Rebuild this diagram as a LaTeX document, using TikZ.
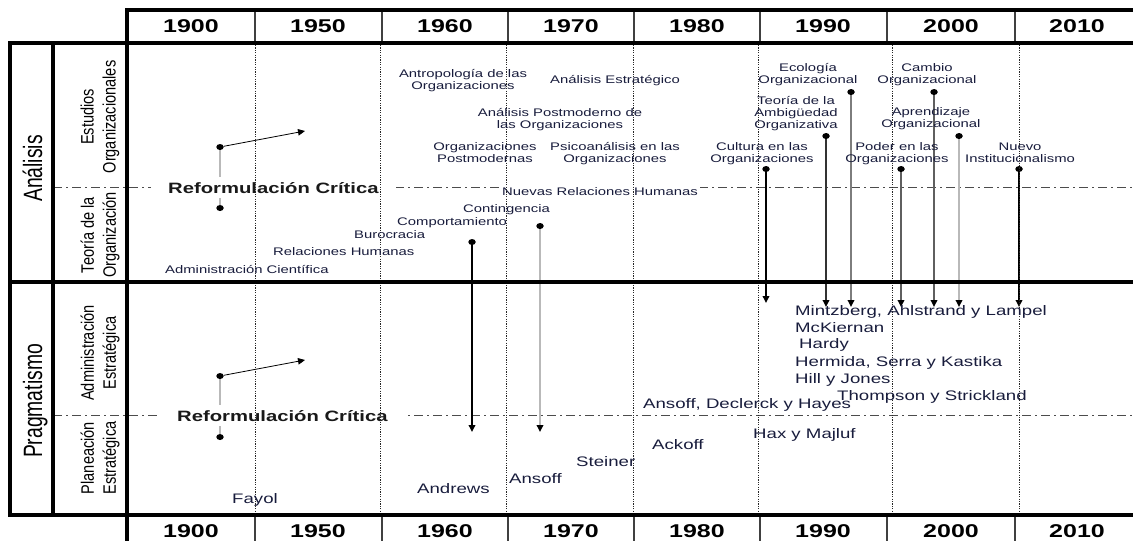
\documentclass[tikz,border=0pt]{standalone}
\usepackage{fontspec}
\setmainfont{Liberation Sans}
\newfontfamily\wfont[FakeStretch=1.35]{Liberation Sans}
\newfontfamily\sidefont[FakeStretch=0.73]{Liberation Sans}
\newfontfamily\subfont[FakeStretch=0.81]{Liberation Sans}
\usetikzlibrary{arrows.meta,shapes.geometric}

\definecolor{ink}{RGB}{24,28,60}
\definecolor{grayA}{RGB}{185,185,185}
\definecolor{grayB}{RGB}{125,125,125}
\definecolor{grayC}{RGB}{95,95,95}
\definecolor{grayD}{RGB}{50,50,50}

\tikzset{
  frame/.style={line width=4.5pt},
  divider/.style={line width=1.2pt, black!75},
  dotv/.style={line width=0.9pt, black!85, dash pattern=on 1.2pt off 1.2pt},
  dashdot/.style={line width=0.9pt, black!70, dash pattern=on 9pt off 4pt on 2pt off 4pt},
  dot/.style={ellipse, fill=black, inner sep=0pt, minimum width=7.5pt, minimum height=6pt},
  conn/.style={line width=2pt},
  tip/.style={-{Triangle[width=6.5pt,length=7pt,black]}},
  year/.style={font=\wfont\bfseries\fontsize{18.5}{20}\selectfont, text=black, anchor=base, inner sep=0pt},
  % multi-line labels: the base anchor sits on the last line
  lbl/.style={font=\wfont\fontsize{11}{11.8}\selectfont, text=ink, align=center, anchor=base, inner sep=0pt},
  sm/.style={font=\wfont\fontsize{11}{11.8}\selectfont, text=ink, anchor=base west, inner sep=0pt},
  nm/.style={font=\wfont\fontsize{13.8}{14}\selectfont, text=ink, anchor=base west, inner sep=0pt},
  refo/.style={font=\wfont\bfseries\fontsize{15}{16}\selectfont, text=black!90, fill=white, anchor=base west, inner xsep=17pt, inner ysep=5pt},
  side/.style={font=\sidefont\fontsize{26.5}{28}\selectfont, rotate=90, anchor=base, inner sep=0pt},
  sub/.style={font=\subfont\fontsize{18}{22}\selectfont, rotate=90, align=center, inner sep=0pt},
}

\begin{document}
\begin{tikzpicture}[x=1pt,y=-1pt]
\useasboundingbox (0,0) rectangle (1133,541);

% section separators inside each band
\draw[dashdot] (53,187) -- (1140,187);
\draw[dashdot] (53,415) -- (1140,415);

% critical reformulation markers
\node[dot] (ra) at (220,147) {};
\node[dot] (rb) at (220,208) {};
\node[dot] (pa) at (220,376) {};
\node[dot] (pb) at (220,437) {};
\coordinate (rae) at (305,131);
\coordinate (pae) at (305,360);
\draw[conn, grayA] (ra) -- (rb);
\draw[conn, grayA] (pa) -- (pb);
\draw[line width=0.8pt, tip] (ra) -- (rae);
\draw[line width=0.8pt, tip] (pa) -- (pae);

% links from the theory side to the strategic side
\node[dot] (v1) at (472,242) {};
\node[dot] (v2) at (540,226) {};
\node[dot] (v3) at (766,169) {};
\node[dot] (v4) at (826,136) {};
\node[dot] (v5) at (851,92) {};
\node[dot] (v6) at (901,169) {};
\node[dot] (v7) at (934,92) {};
\node[dot] (v8) at (959,136) {};
\node[dot] (v9) at (1019,169) {};
\coordinate (e1) at (472,432);
\coordinate (e2) at (540,432);
\coordinate (e3) at (766,303);
\coordinate (e4) at (826,307);
\coordinate (e5) at (851,307);
\coordinate (e6) at (901,307);
\coordinate (e7) at (934,307);
\coordinate (e8) at (959,307);
\coordinate (e9) at (1019,307);
\draw[conn, tip, black] (v1) -- (e1);
\draw[conn, tip, grayA] (v2) -- (e2);
\draw[conn, tip, black] (v3) -- (e3);
\draw[conn, tip, grayD] (v4) -- (e4);
\draw[conn, tip, grayB] (v5) -- (e5);
\draw[conn, tip, grayC] (v6) -- (e6);
\draw[conn, tip, grayC] (v7) -- (e7);
\draw[conn, tip, grayA] (v8) -- (e8);
\draw[conn, tip, black] (v9) -- (e9);

\node[refo] (rfa) at (151,193) {Reformulación Crítica};
\node[refo] (rfb) at (160,421) {Reformulación Crítica};
\node[sm, fill=white, inner xsep=2pt] (nrh) at (500,195) {Nuevas Relaciones Humanas};

% decade guides
\foreach \gx in {255,380,506,633,758,892,1019}
  \draw[dotv] (\gx,45) -- (\gx,513);

% frame
\draw[frame] (127,10) rectangle (1145,43);
\draw[frame] (10,43) rectangle (1145,515);
\draw[frame] (53,43) -- (53,515);
\draw[frame] (127,43) -- (127,515);
\draw[frame] (10,282) -- (1145,282);
\draw[frame] (127,515) -- (127,545);
\foreach \gx in {255,382,508,634,760,887,1015} {
  \draw[divider] (\gx,12) -- (\gx,41);
  \draw[divider] (\gx,517) -- (\gx,545);
}

% decades
\foreach \yr/\cx [count=\i] in {1900/191,1950/318,1960/445,1970/571,1980/697,1990/823,2000/951,2010/1077} {
  \node[year] (top\i) at (\cx,32.5) {\yr};
  \node[year] (bot\i) at (\cx,537.5) {\yr};
}

% row headings
\node[side] (an) at (42,168.5) {Análisis};
\node[side] (pr) at (42,401) {Pragmatismo};
\node[sub] (eo) at (100,117) {Estudios\\Organizacionales};
\node[sub] (to) at (100,235) {Teoría de la\\Organización};
\node[sub] (ae) at (100,353) {Administración\\Estratégica};
\node[sub] (pe) at (100,458) {Planeación\\Estratégica};

% organizational studies
\node[lbl] (l1) at (463,89) {Antropología de las\\Organizaciones};
\node[lbl] (l2) at (615,83) {Análisis Estratégico};
\node[lbl] (l3) at (560,128.5) {Análisis Postmoderno de\\las Organizaciones};
\node[lbl] (l4) at (485,162) {Organizaciones\\Postmodernas};
\node[lbl] (l5) at (615,162) {Psicoanálisis en las\\Organizaciones};
\node[lbl] (l6) at (762,162) {Cultura en las\\Organizaciones};
\node[lbl] (l7) at (808,83) {Ecología\\Organizacional};
\node[lbl] (l8) at (796,128.5) {Teoría de la\\Ambigüedad\\Organizativa};
\node[lbl] (l9) at (927,83) {Cambio\\Organizacional};
\node[lbl] (l10) at (931,127) {Aprendizaje\\Organizacional};
\node[lbl] (l11) at (897,162) {Poder en las\\Organizaciones};
\node[lbl] (l12) at (1020,162) {Nuevo\\Institucionalismo};

% organization theory
\node[sm] (t1) at (463,212) {Contingencia};
\node[sm] (t2) at (397,225) {Comportamiento};
\node[sm] (t3) at (354,238) {Burocracia};
\node[sm] (t4) at (273,255) {Relaciones Humanas};
\node[sm] (t5) at (165,273) {Administración Científica};

% strategic management and planning
\node[nm] (n1) at (795,315) {Mintzberg, Ahlstrand y Lampel};
\node[nm] (n2) at (795,332) {McKiernan};
\node[nm] (n3) at (799,348) {Hardy};
\node[nm] (n4) at (795,366) {Hermida, Serra y Kastika};
\node[nm] (n5) at (795,383) {Hill y Jones};
\node[nm] (n6) at (837,400) {Thompson y Strickland};
\node[nm] (n7) at (643,408) {Ansoff, Declerck y Hayes};
\node[nm] (n8) at (753,438) {Hax y Majluf};
\node[nm] (n9) at (652,449) {Ackoff};
\node[nm] (n10) at (576,466) {Steiner};
\node[nm] (n11) at (509,483) {Ansoff};
\node[nm] (n12) at (417,493) {Andrews};
\node[nm] (n13) at (232,503) {Fayol};
\end{tikzpicture}
\end{document}
